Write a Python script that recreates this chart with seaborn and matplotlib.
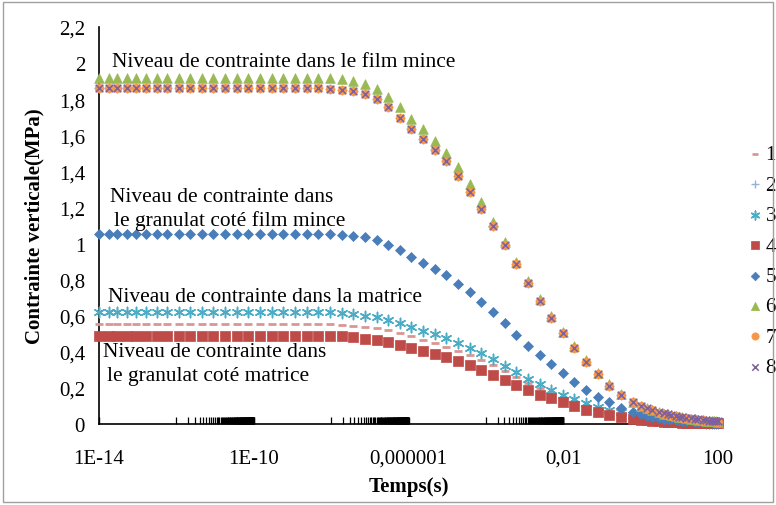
import numpy as np
import pandas as pd
import matplotlib
matplotlib.use("Agg")
import matplotlib.pyplot as plt
import seaborn as sns
from matplotlib.ticker import FixedLocator, FixedFormatter, NullFormatter
from matplotlib.patches import Rectangle

# ---------------- data ----------------
temps = [1e-14, 1.85e-14, 2.97e-14, 5.2e-14, 9.0e-14, 1.6e-13, 3.15e-13,
         5.684e-13, 1.137e-12, 2.274e-12, 4.547e-12, 9.095e-12, 1.819e-11, 3.638e-11,
         7.276e-11, 1.455e-10, 2.910e-10, 5.821e-10, 1.164e-9, 2.328e-9, 4.657e-9,
         9.313e-9, 1.863e-8, 3.725e-8, 7.451e-8, 1.490e-7, 2.980e-7, 5.960e-7,
         1.192e-6, 2.384e-6, 4.768e-6, 9.537e-6, 1.907e-5, 3.815e-5, 7.629e-5,
         1.526e-4, 3.052e-4, 6.104e-4, 1.221e-3, 2.441e-3, 4.883e-3, 9.766e-3,
         1.953e-2, 3.906e-2, 7.813e-2, 0.15625, 0.3125, 0.625,
         1, 1.5, 2, 3, 4, 5, 6, 8, 10, 12, 15, 20, 25, 30, 40, 50, 60, 70, 80, 90, 100]

serie_1 = [0.555, 0.555, 0.555, 0.555, 0.555, 0.555, 0.555, 0.555, 0.555, 0.555, 0.555,
           0.555, 0.555, 0.555, 0.555, 0.555, 0.555, 0.555, 0.555, 0.555, 0.555, 0.555,
           0.551, 0.545, 0.539, 0.530, 0.519, 0.504, 0.487, 0.468, 0.449, 0.429, 0.407,
           0.382, 0.355, 0.326, 0.294, 0.262, 0.229, 0.200, 0.170, 0.142, 0.118, 0.098,
           0.079, 0.064, 0.051, 0.039,
           0.033, 0.028, 0.025, 0.021, 0.018, 0.017, 0.015, 0.014, 0.012, 0.011, 0.010,
           0.009, 0.008, 0.008, 0.007, 0.006, 0.006, 0.005, 0.005, 0.005, 0.004]

serie_2 = [1.86, 1.86, 1.86, 1.86, 1.86, 1.86, 1.86, 1.86, 1.86, 1.86, 1.86,
           1.86, 1.86, 1.86, 1.86, 1.86, 1.86, 1.86, 1.86, 1.86, 1.86,
           1.855, 1.852, 1.843, 1.830, 1.799, 1.756, 1.696, 1.636, 1.581, 1.521, 1.455,
           1.377, 1.288, 1.190, 1.100, 0.994, 0.885, 0.780, 0.680, 0.588, 0.502, 0.421,
           0.345, 0.275, 0.212, 0.160, 0.120,
           0.098, 0.085, 0.075, 0.063, 0.056, 0.051, 0.047, 0.042, 0.038, 0.035, 0.032,
           0.028, 0.025, 0.023, 0.020, 0.018, 0.016, 0.015, 0.014, 0.013, 0.012]

serie_3 = [0.620, 0.620, 0.620, 0.620, 0.620, 0.620, 0.620, 0.620, 0.620, 0.620, 0.620,
           0.620, 0.620, 0.620, 0.620, 0.620, 0.620, 0.620, 0.620, 0.620, 0.620, 0.620,
           0.614, 0.610, 0.601, 0.592, 0.579, 0.560, 0.540, 0.518, 0.498, 0.475, 0.449,
           0.421, 0.391, 0.359, 0.323, 0.287, 0.252, 0.222, 0.190, 0.161, 0.137, 0.116,
           0.094, 0.078, 0.064, 0.050,
           0.042, 0.036, 0.032, 0.027, 0.024, 0.022, 0.020, 0.018, 0.016, 0.015, 0.013,
           0.012, 0.011, 0.010, 0.009, 0.008, 0.008, 0.007, 0.007, 0.006, 0.006]

serie_4 = [0.487, 0.487, 0.487, 0.487, 0.487, 0.487, 0.487, 0.487, 0.487, 0.487, 0.487,
           0.487, 0.487, 0.487, 0.487, 0.487, 0.487, 0.487, 0.487, 0.487, 0.487, 0.487,
           0.487, 0.481, 0.472, 0.463, 0.453, 0.438, 0.420, 0.403, 0.388, 0.370, 0.350,
           0.326, 0.301, 0.273, 0.244, 0.216, 0.187, 0.163, 0.143, 0.120, 0.099, 0.080,
           0.064, 0.050, 0.038, 0.029,
           0.024, 0.020, 0.018, 0.015, 0.013, 0.012, 0.011, 0.010, 0.009, 0.008, 0.007,
           0.007, 0.006, 0.006, 0.005, 0.005, 0.004, 0.004, 0.004, 0.004, 0.003]

serie_5 = [1.054, 1.054, 1.054, 1.054, 1.054, 1.054, 1.054, 1.054, 1.054, 1.054, 1.054,
           1.054, 1.054, 1.054, 1.054, 1.054, 1.054, 1.054, 1.054, 1.054, 1.054, 1.054,
           1.048, 1.044, 1.037, 1.022, 0.994, 0.965, 0.928, 0.893, 0.860, 0.823, 0.776,
           0.730, 0.675, 0.620, 0.558, 0.495, 0.434, 0.384, 0.333, 0.281, 0.235, 0.190,
           0.151, 0.120, 0.090, 0.066,
           0.055, 0.047, 0.041, 0.034, 0.030, 0.027, 0.025, 0.022, 0.020, 0.018, 0.016,
           0.014, 0.013, 0.012, 0.010, 0.009, 0.009, 0.008, 0.008, 0.007, 0.007]

serie_6 = [1.92, 1.92, 1.92, 1.92, 1.92, 1.92, 1.92, 1.92, 1.92, 1.92, 1.92,
           1.92, 1.92, 1.92, 1.92, 1.92, 1.92, 1.92, 1.92, 1.92, 1.92, 1.92,
           1.912, 1.900, 1.886, 1.858, 1.814, 1.755, 1.690, 1.632, 1.571, 1.503, 1.424,
           1.331, 1.230, 1.120, 1.011, 0.899, 0.790, 0.692, 0.600, 0.512, 0.432, 0.354,
           0.282, 0.219, 0.165, 0.124,
           0.101, 0.088, 0.078, 0.066, 0.058, 0.053, 0.049, 0.044, 0.040, 0.037, 0.033,
           0.029, 0.026, 0.024, 0.021, 0.019, 0.017, 0.016, 0.015, 0.014, 0.013]

serie_7 = [1.86, 1.86, 1.86, 1.86, 1.86, 1.86, 1.86, 1.86, 1.86, 1.86, 1.86,
           1.86, 1.86, 1.86, 1.86, 1.86, 1.86, 1.86, 1.86, 1.86, 1.86,
           1.855, 1.852, 1.843, 1.830, 1.799, 1.756, 1.696, 1.636, 1.581, 1.521, 1.455,
           1.377, 1.288, 1.190, 1.100, 0.994, 0.885, 0.780, 0.680, 0.588, 0.502, 0.421,
           0.345, 0.275, 0.212, 0.160, 0.120,
           0.098, 0.085, 0.075, 0.063, 0.056, 0.051, 0.047, 0.042, 0.038, 0.035, 0.032,
           0.028, 0.025, 0.023, 0.020, 0.018, 0.016, 0.015, 0.014, 0.013, 0.012]

serie_8 = [1.86, 1.86, 1.86, 1.86, 1.86, 1.86, 1.86, 1.86, 1.86, 1.86, 1.86,
           1.86, 1.86, 1.86, 1.86, 1.86, 1.86, 1.86, 1.86, 1.86, 1.86,
           1.855, 1.852, 1.843, 1.830, 1.799, 1.756, 1.696, 1.636, 1.581, 1.521, 1.455,
           1.377, 1.288, 1.190, 1.100, 0.994, 0.885, 0.780, 0.680, 0.588, 0.502, 0.421,
           0.345, 0.275, 0.212, 0.160, 0.120,
           0.100, 0.088, 0.078, 0.066, 0.059, 0.054, 0.050, 0.045, 0.041, 0.038, 0.035,
           0.031, 0.028, 0.026, 0.023, 0.021, 0.019, 0.018, 0.017, 0.016, 0.015]

series_names = ["1", "2", "3", "4", "5", "6", "7", "8"]
x_tick_values = [1e-14, 1e-10, 1e-6, 1e-2, 1e2]
x_tick_labels = ["1E-14", "1E-10", "0,000001", "0,01", "100"]
y_tick_values = [0, 0.2, 0.4, 0.6, 0.8, 1.0, 1.2, 1.4, 1.6, 1.8, 2.0, 2.2]
y_tick_labels = ["0", "0,2", "0,4", "0,6", "0,8", "1", "1,2", "1,4", "1,6", "1,8", "2", "2,2"]

# ---------------- style ----------------
sns.set_theme(style="white")
plt.rcParams["font.family"] = ["Liberation Serif", "DejaVu Serif"]

W, H = 776, 506
fig = plt.figure(figsize=(W / 100, H / 100), dpi=100)
ax = fig.add_axes([99 / W, 1 - 425 / H, (718 - 99) / W, (425 - 28) / H])

all_vals = [serie_1, serie_2, serie_3, serie_4, serie_5, serie_6, serie_7, serie_8]
styles = {
    "1": dict(marker="_", s=30, color="#D99694", linewidths=2.0),
    "2": dict(marker="+", s=45, color="#95B3D7", linewidths=1.0),
    "3": dict(marker=(6, 2, 0), s=55, color="#4BACC6", linewidths=1.1),
    "4": dict(marker="s", s=42, color="#BE4B48", edgecolor="#BE4B48", linewidth=0.5),
    "5": dict(marker="D", s=26, color="#4A7EBB", edgecolor="#4A7EBB", linewidth=0.5),
    "6": dict(marker="^", s=48, color="#98B954", edgecolor="#98B954", linewidth=0.5),
    "7": dict(marker="o", s=38, color="#F79646", edgecolor="#F79646", linewidth=0.5),
    "8": dict(marker="x", s=30, color="#7D60A0", linewidths=1.1),
}

frames = []
for name, vals in zip(series_names, all_vals):
    frames.append(pd.DataFrame({"Temps": temps, "Contrainte": vals, "Serie": name}))
df = pd.concat(frames, ignore_index=True)

for name in series_names:
    sub = df[df["Serie"] == name]
    st = dict(styles[name])
    sns.scatterplot(data=sub, x="Temps", y="Contrainte", ax=ax, label=name,
                    clip_on=False, zorder=3, **st)

ax.set_xscale("log")
ax.set_xlim(1e-14, 100)
ax.set_ylim(0, 2.2)

ax.xaxis.set_major_locator(FixedLocator(x_tick_values))
ax.xaxis.set_major_formatter(FixedFormatter(x_tick_labels))
minor = []
for m in x_tick_values[:-1]:
    for k in range(1, 100):
        minor.append(m * 100 * k)
ax.xaxis.set_minor_locator(FixedLocator(minor))
ax.xaxis.set_minor_formatter(NullFormatter())
ax.yaxis.set_major_locator(FixedLocator(y_tick_values))
ax.yaxis.set_major_formatter(FixedFormatter(y_tick_labels))

ax.tick_params(axis="x", which="both", bottom=True, top=False)
ax.tick_params(axis="x", which="major", direction="in", length=5, width=1,
               color="black", labelsize=15, pad=18, labelcolor="black")
ax.tick_params(axis="x", which="minor", direction="in", length=5, width=0.9,
               color="black")
ax.tick_params(axis="y", which="major", left=False, length=0,
               labelsize=15, pad=10, labelcolor="black")

for side in ["top", "right"]:
    ax.spines[side].set_visible(False)
for side in ["left", "bottom"]:
    ax.spines[side].set_color("black")
    ax.spines[side].set_linewidth(1.2)
ax.grid(False)

ax.set_xlabel("Temps(s)", fontsize=15, fontweight="bold", labelpad=6, color="black")
ax.set_ylabel("Contrainte verticale(MPa)", fontsize=15, fontweight="bold",
              labelpad=10, color="black")

# annotations (pixel positions relative to the figure)
def ftext(px, py, s):
    fig.text(px / W, 1 - py / H, s, fontsize=15.4, color="black",
             va="center", ha="left")

ftext(112, 63, "Niveau de contrainte dans le film mince")
ftext(110, 198, "Niveau de contrainte dans")
ftext(114, 221, "le granulat coté film mince")
ftext(108, 298, "Niveau de contrainte dans la matrice")
ftext(103, 353, "Niveau de contrainte dans")
ftext(107, 376, "le granulat coté matrice")

leg = ax.legend(loc="center left", bbox_to_anchor=(750 / W, 1 - 262 / H),
                bbox_transform=fig.transFigure, frameon=False, fontsize=15,
                handlelength=0.5, handletextpad=0.25, labelspacing=0.52,
                borderpad=0, borderaxespad=0, markerscale=0.85)
for t in leg.get_texts():
    t.set_color("black")

# chart-area border
fig.patches.append(Rectangle((3 / W, 3 / H), (W - 6) / W, (H - 6) / H,
                             transform=fig.transFigure, fill=False,
                             edgecolor="#A0A0A0", linewidth=1.0))

fig.savefig("out.png", dpi=100)
